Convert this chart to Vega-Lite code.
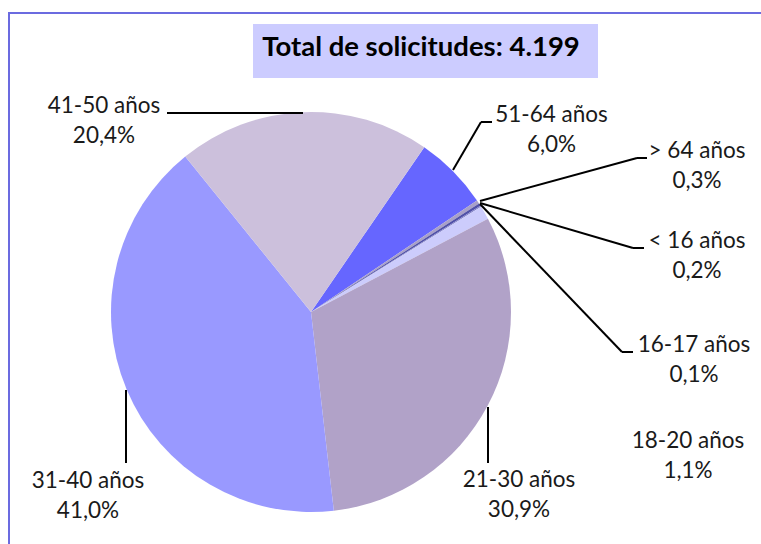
{
  "$schema": "https://vega.github.io/schema/vega-lite/v6.json",
  "width": 760,
  "height": 540,
  "autosize": {"type": "none"},
  "padding": {"left": 9, "top": 13, "right": 0, "bottom": 0},
  "background": "white",
  "config": {"view": {"stroke": "#6b6be0", "strokeWidth": 2}},
  "data": {
    "values": [
      {"cat": "51-64 años", "pct": 6.0},
      {"cat": "> 64 años", "pct": 0.3},
      {"cat": "< 16 años", "pct": 0.2},
      {"cat": "16-17 años", "pct": 0.1},
      {"cat": "18-20 años", "pct": 1.1},
      {"cat": "21-30 años", "pct": 30.9},
      {"cat": "31-40 años", "pct": 41.0},
      {"cat": "41-50 años", "pct": 20.4}
    ]
  },
  "transform": [{"window": [{"op": "row_number", "as": "orden"}]}],
  "layer": [
    {
      "data": {"values": [{}]},
      "mark": {"type": "rect", "color": "#ccccff"},
      "encoding": {
        "x": {"datum": -0.29, "type": "quantitative", "scale": {"domain": [-1.51, 2.29], "nice": false, "zero": false}, "axis": null},
        "x2": {"datum": 1.435},
        "y": {"datum": 1.44, "type": "quantitative", "scale": {"domain": [-1.205, 1.495], "nice": false, "zero": false}, "axis": null},
        "y2": {"datum": 1.17}
      }
    },
    {
      "data": {"values": [{}]},
      "mark": {"type": "text", "font": "Lato", "fontWeight": "bold", "fontSize": 27.5, "color": "#000000", "align": "center", "baseline": "alphabetic"},
      "encoding": {
        "x": {"datum": 0.55, "type": "quantitative", "scale": {"domain": [-1.51, 2.29], "nice": false, "zero": false}, "axis": null},
        "y": {"datum": 1.28, "type": "quantitative", "scale": {"domain": [-1.205, 1.495], "nice": false, "zero": false}, "axis": null},
        "text": {"value": "Total de solicitudes: 4.199"}
      }
    },
    {
      "mark": {"type": "arc", "outerRadius": 200},
      "encoding": {
        "x": {"datum": 0, "type": "quantitative", "scale": {"domain": [-1.51, 2.29], "nice": false, "zero": false}, "axis": null},
        "y": {"datum": 0, "type": "quantitative", "scale": {"domain": [-1.205, 1.495], "nice": false, "zero": false}, "axis": null},
        "theta": {"field": "pct", "type": "quantitative", "stack": true, "scale": {"range": [0.602, 6.885]}},
        "order": {"field": "orden", "type": "quantitative"},
        "color": {
          "field": "cat",
          "type": "nominal",
          "legend": null,
          "scale": {
            "domain": ["51-64 años", "> 64 años", "< 16 años", "16-17 años", "18-20 años", "21-30 años", "31-40 años", "41-50 años"],
            "range": ["#6666ff", "#a8a0c8", "#5050a8", "#8080c8", "#ccccfc", "#b1a2c8", "#9999ff", "#ccc0dc"]
          }
        }
      }
    },
    {
      "transform": [
        {"filter": "datum.cat !== '18-20 años'"},
        {"calculate": "{'41-50 años': -0.72, '51-64 años': 0.71, '> 64 años': 0.845, '< 16 años': 0.845, '16-17 años': 0.845, '21-30 años': 0.885, '31-40 años': -0.925}[datum.cat]", "as": "ax"},
        {"calculate": "{'41-50 años': 0.995, '51-64 años': 0.71, '> 64 años': 0.555, '< 16 años': 0.545, '16-17 años': 0.54, '21-30 años': -0.475, '31-40 años': -0.39}[datum.cat]", "as": "ay"},
        {"calculate": "{'41-50 años': -0.04, '51-64 años': 0.85, '> 64 años': 1.63, '< 16 años': 1.61, '16-17 años': 1.555, '21-30 años': 0.885, '31-40 años': -0.925}[datum.cat]", "as": "bx"},
        {"calculate": "{'41-50 años': 0.995, '51-64 años': 0.95, '> 64 años': 0.77, '< 16 años': 0.32, '16-17 años': -0.2, '21-30 años': -0.755, '31-40 años': -0.755}[datum.cat]", "as": "by"}
      ],
      "mark": {"type": "rule", "color": "#000000", "strokeWidth": 2},
      "encoding": {
        "x": {"field": "ax", "type": "quantitative", "scale": {"domain": [-1.51, 2.29], "nice": false, "zero": false}, "axis": null},
        "y": {"field": "ay", "type": "quantitative", "scale": {"domain": [-1.205, 1.495], "nice": false, "zero": false}, "axis": null},
        "x2": {"field": "bx"},
        "y2": {"field": "by"}
      }
    },
    {
      "transform": [
        {"filter": "indexof(['51-64 años', '> 64 años', '< 16 años', '16-17 años'], datum.cat) >= 0"},
        {"calculate": "{'51-64 años': 0.85, '> 64 años': 1.63, '< 16 años': 1.61, '16-17 años': 1.555}[datum.cat]", "as": "ax"},
        {"calculate": "{'51-64 años': 0.95, '> 64 años': 0.77, '< 16 años': 0.32, '16-17 años': -0.2}[datum.cat]", "as": "ay"},
        {"calculate": "{'51-64 años': 0.905, '> 64 años': 1.68, '< 16 años': 1.665, '16-17 años': 1.61}[datum.cat]", "as": "bx"}
      ],
      "mark": {"type": "rule", "color": "#000000", "strokeWidth": 2},
      "encoding": {
        "x": {"field": "ax", "type": "quantitative", "scale": {"domain": [-1.51, 2.29], "nice": false, "zero": false}, "axis": null},
        "y": {"field": "ay", "type": "quantitative", "scale": {"domain": [-1.205, 1.495], "nice": false, "zero": false}, "axis": null},
        "x2": {"field": "bx"}
      }
    },
    {
      "transform": [
        {"calculate": "{'41-50 años': -1.035, '51-64 años': 1.2025, '> 64 años': 1.93, '< 16 años': 1.93, '16-17 años': 1.915, '18-20 años': 1.885, '21-30 años': 1.04, '31-40 años': -1.115}[datum.cat]", "as": "lx"},
        {"calculate": "{'41-50 años': 0.995, '51-64 años': 0.95, '> 64 años': 0.77, '< 16 años': 0.32, '16-17 años': -0.2, '18-20 años': -0.68, '21-30 años': -0.875, '31-40 años': -0.88}[datum.cat]", "as": "ly"},
        {"calculate": "[datum.cat, replace(format(datum.pct, '.1f'), '.', ',') + '%']", "as": "label"}
      ],
      "mark": {"type": "text", "font": "Lato", "fontSize": 22.5, "lineHeight": 30, "color": "#1a1a1a", "align": "center", "baseline": "alphabetic"},
      "encoding": {
        "x": {"field": "lx", "type": "quantitative", "scale": {"domain": [-1.51, 2.29], "nice": false, "zero": false}, "axis": null},
        "y": {"field": "ly", "type": "quantitative", "scale": {"domain": [-1.205, 1.495], "nice": false, "zero": false}, "axis": null},
        "text": {"field": "label"}
      }
    }
  ]
}
